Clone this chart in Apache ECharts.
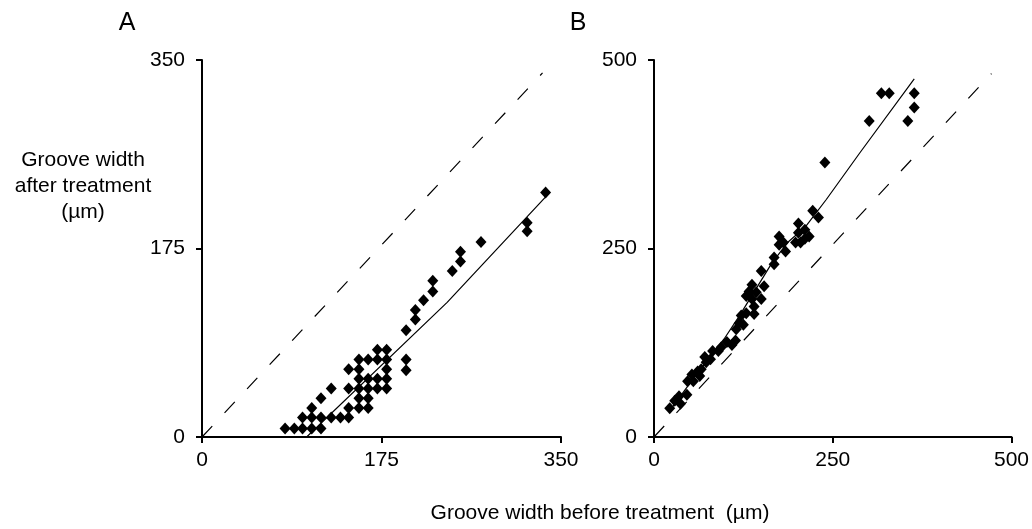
<!DOCTYPE html>
<html>
<head>
<meta charset="utf-8">
<script src="https://cdn.jsdelivr.net/npm/echarts@6/dist/echarts.min.js"></script>
<style>
html,body{margin:0;padding:0;background:#fff;}
#chart{width:1032px;height:529px;}
</style>
</head>
<body>
<div id="chart"></div>
<script>
// ---- data ----
const aTicks = [0, 175, 350];
const bTicks = [0, 250, 500];

const aPoints = [
  [81,8],[90,8],[98,8],[107,8],[116,8],
  [98,18],[107,18],[116,18],[126,18],[135,18],[143,18],
  [107,27],[143,27],[153,27],[162,27],
  [116,36],[153,36],[162,36],
  [126,45],[143,45],[153,45],[162,45],[171,45],[180,45],
  [153,54],[162,54],[171,54],[180,54],
  [143,63],[153,63],[180,63],[199,62],
  [153,72],[162,72],[171,72],[180,72],[199,72],
  [171,81],[180,81],
  [199,99],[208,109],[208,118],[216,127],[225,135],[225,145],
  [244,154],[252,163],[252,172],[272,181],[317,191],[317,199],[335,227]
];
const aFit = [[102,0],[239,125],[338,226]];
const aIdentity = [[0,0],[332,338]];

const bPoints = [
  [22,38],[29,48],[35,54],[37,44],[46,56],[47,74],[55,74],[53,83],[61,87],[66,90],
  [64,81],[73,99],[71,106],[79,103],[82,114],[90,114],[94,119],[102,126],[109,122],
  [114,128],[115,143],[119,151],[122,161],[129,164],[125,149],[140,163],[140,173],
  [129,187],[137,183],[150,183],[143,192],[133,193],[137,202],[154,200],[150,220],
  [168,229],[168,238],[184,246],[175,266],[181,258],[175,255],[198,258],[205,258],
  [202,271],[202,283],[211,275],[217,266],[211,263],[222,300],[230,291],[239,364],
  [301,419],[318,456],[329,456],[364,456],[364,437],[355,419]
];
const bFit = [[22,35],[47,67],[98,130],[119,160],[165,231],[188,259],[212,279],[241,315],[288,377],[364,475]];
const bIdentity = [[0,0],[472,482]];

const yTitle = 'Groove width\nafter treatment\n(µm)';
const xTitle = 'Groove width before treatment  (µm)';

// ---- chart ----
const FONT = 'Arial, "Liberation Sans", sans-serif';
function axis(gi, ticks, isX) {
  return {
    type: 'value', gridIndex: gi,
    min: ticks[0], max: ticks[ticks.length - 1], interval: ticks[1] - ticks[0],
    axisLine: { show: true, onZero: false, lineStyle: { color: '#000', width: 2 } },
    axisTick: { show: true, length: 6, lineStyle: { color: '#000', width: 2 } },
    axisLabel: { color: '#000', fontSize: 21, fontFamily: FONT, margin: isX ? 13 : 17 },
    splitLine: { show: false }
  };
}
const dotStyle = { color: '#000', opacity: 1 };
const chart = echarts.init(document.getElementById('chart'));
chart.setOption({
  animation: false,
  backgroundColor: '#fff',
  grid: [
    { left: 202, top: 60, width: 359, height: 377 },
    { left: 654, top: 60, width: 361, height: 377 }
  ],
  xAxis: [axis(0, aTicks, true), axis(1, bTicks, true)],
  yAxis: [axis(0, aTicks, false), axis(1, bTicks, false)],
  series: [
    { type: 'line', xAxisIndex: 0, yAxisIndex: 0, data: aIdentity, symbol: 'none',
      lineStyle: { color: '#000', width: 1.2, type: [15, 18] } },
    { type: 'line', xAxisIndex: 0, yAxisIndex: 0, data: aFit, symbol: 'none',
      lineStyle: { color: '#000', width: 1.2 } },
    { type: 'scatter', xAxisIndex: 0, yAxisIndex: 0, data: aPoints, symbol: 'diamond',
      symbolSize: [11, 12], itemStyle: dotStyle },
    { type: 'line', xAxisIndex: 1, yAxisIndex: 1, data: bIdentity, symbol: 'none',
      lineStyle: { color: '#000', width: 1.2, type: [15, 18] } },
    { type: 'line', xAxisIndex: 1, yAxisIndex: 1, data: bFit, symbol: 'none',
      lineStyle: { color: '#000', width: 1.2 } },
    { type: 'scatter', xAxisIndex: 1, yAxisIndex: 1, data: bPoints, symbol: 'diamond',
      symbolSize: [11, 12], itemStyle: dotStyle }
  ],
  graphic: [
    { type: 'text', x: 127, y: 23, style: { text: 'A', font: '25px ' + FONT, fill: '#000', align: 'center', verticalAlign: 'middle' } },
    { type: 'text', x: 578, y: 23, style: { text: 'B', font: '25px ' + FONT, fill: '#000', align: 'center', verticalAlign: 'middle' } },
    { type: 'text', x: 83, y: 147, style: { text: yTitle, font: '21px ' + FONT, lineHeight: 26, fill: '#000', align: 'center', verticalAlign: 'top' } },
    { type: 'text', x: 600, y: 513, style: { text: xTitle, font: '21px ' + FONT, fill: '#000', align: 'center', verticalAlign: 'middle' } }
  ]
});
</script>
</body>
</html>
